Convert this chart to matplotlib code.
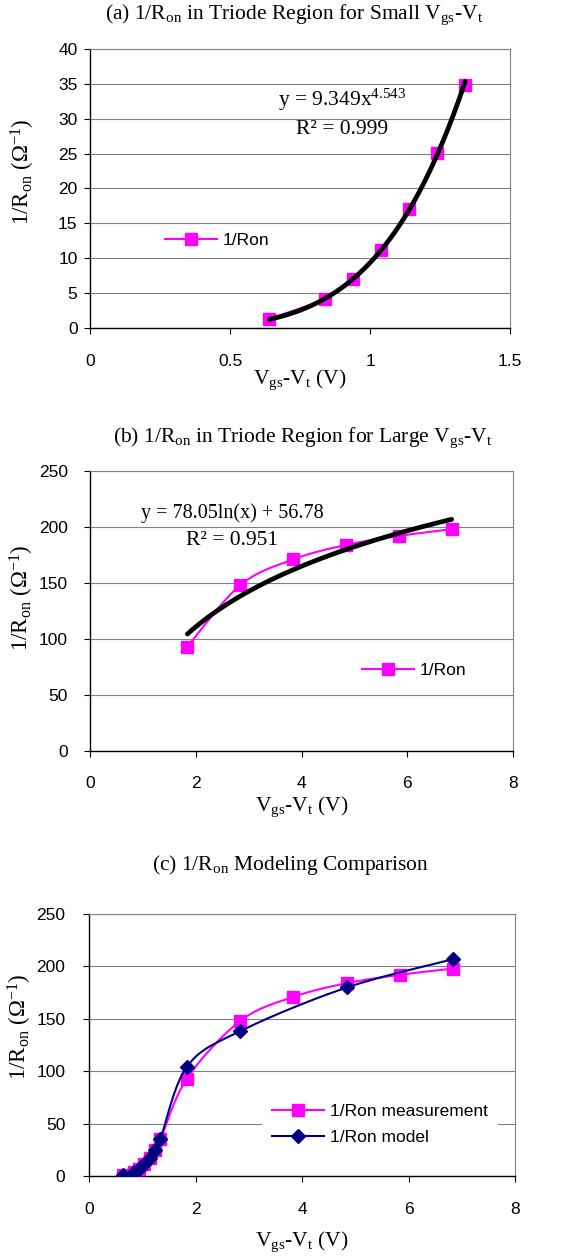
import numpy as np
import matplotlib
matplotlib.use("Agg")
import matplotlib.pyplot as plt
from matplotlib.lines import Line2D

plt.rcParams['font.family'] = ['Liberation Sans', 'DejaVu Sans']
plt.rcParams['mathtext.fontset'] = 'custom'
plt.rcParams['mathtext.rm'] = 'Liberation Serif'
plt.rcParams['mathtext.it'] = 'Liberation Serif:italic'
plt.rcParams['mathtext.bf'] = 'Liberation Serif:bold'
SERIF = ['Liberation Serif', 'DejaVu Serif']

# measured 1/Ron, small overdrive
vov_small = [0.64, 0.84, 0.94, 1.04, 1.14, 1.24, 1.34]
gon_small = [1.3, 4.2, 7.0, 11.2, 17.0, 25.1, 34.9]
# measured 1/Ron, large overdrive
vov_large = [1.84, 2.84, 3.84, 4.84, 5.84, 6.84]
gon_large = [93, 148, 171, 184, 192, 198]
# trendline coefficients
pow_a, pow_b, r2_small = 9.349, 4.543, 0.999
log_a, log_b, r2_large = 78.05, 56.78, 0.951
# model points (power law below 1.5 V, log above)
vov_model = [0.64, 0.84, 0.94, 1.04, 1.14, 1.24, 1.34, 1.84, 2.84, 4.84, 6.84]
gon_model = [1.2, 4.2, 7.1, 11.2, 17.0, 24.8, 35.3, 104.4, 138.3, 179.9, 206.9]

xticks_a = [0, 0.5, 1, 1.5]
xlabels_a = ['0', '0.5', '1', '1.5']
yticks_a = [0, 5, 10, 15, 20, 25, 30, 35, 40]
xticks_bc = [0, 2, 4, 6, 8]
yticks_bc = [0, 50, 100, 150, 200, 250]

MAG = '#FF00FF'
NAVY = '#000080'
GRID = '#808080'
TICK_FS = 12.5
SERIF_FS = 15.5

ylab = '1/R$_{\\mathrm{on}}$ (Ω$^{\\mathrm{-1}}$)'
xlab = 'V$_{\\mathrm{gs}}$-V$_{\\mathrm{t}}$ (V)'


def smooth(x, y, n=40):
    # excel style smoothed line: cubic bezier with catmull-rom control points
    x = np.asarray(x, float)
    y = np.asarray(y, float)
    px = np.concatenate([[x[0]], x, [x[-1]]])
    py = np.concatenate([[y[0]], y, [y[-1]]])
    t = np.linspace(0, 1, n)[:, None]
    out = []
    for i in range(len(x) - 1):
        p0 = np.array([px[i], py[i]])
        p1 = np.array([px[i + 1], py[i + 1]])
        p2 = np.array([px[i + 2], py[i + 2]])
        p3 = np.array([px[i + 3], py[i + 3]])
        c1 = p1 + (p2 - p0) / 6
        c2 = p2 - (p3 - p1) / 6
        seg = ((1 - t) ** 3 * p1 + 3 * (1 - t) ** 2 * t * c1
               + 3 * (1 - t) * t ** 2 * c2 + t ** 3 * p2)
        out.append(seg)
    out = np.vstack(out)
    return out[:, 0], out[:, 1]


def style(ax, xpad, ypad):
    ax.grid(axis='y', color=GRID, lw=0.8)
    ax.set_axisbelow(True)
    for s in ('top', 'right'):
        ax.spines[s].set_color(GRID)
        ax.spines[s].set_linewidth(0.8)
    for s in ('left', 'bottom'):
        ax.spines[s].set_color('black')
        ax.spines[s].set_linewidth(1.0)
    ax.tick_params(direction='out', length=4, width=0.8, labelsize=TICK_FS)
    ax.tick_params(axis='x', pad=xpad)
    ax.tick_params(axis='y', pad=ypad)
    ax.set_ylabel(ylab, fontfamily=SERIF, fontsize=16.5)
    ax.set_xlabel(xlab, fontfamily=SERIF, fontsize=SERIF_FS)
    ax.xaxis.label.set_va('center')
    ax.yaxis.label.set_va('center')


fig = plt.figure(figsize=(5.68, 12.59), dpi=100)

# (a)
ax = fig.add_axes([0.1585, 0.7395, 0.7394, 0.2216])
sx, sy = smooth(vov_small, gon_small)
ax.plot(sx, sy, color=MAG, lw=1.5, zorder=2)
ax.plot(vov_small, gon_small, 's', color=MAG, ms=9, mec=MAG, zorder=3)
fx = np.linspace(vov_small[0], vov_small[-1], 200)
ax.plot(fx, pow_a * fx ** pow_b, color='black', lw=3.4, solid_capstyle='round', zorder=4)
ax.text(0.90, 32.7, f'y = {pow_a}x$^{{{pow_b}}}$', ha='center', va='center',
        fontfamily=SERIF, fontsize=SERIF_FS)
ax.text(0.90, 28.4, f'R² = {r2_small}', ha='center', va='center',
        fontfamily=SERIF, fontsize=SERIF_FS)
ax.set_xlim(0, 1.5)
ax.set_ylim(0, 40)
ax.set_xticks(xticks_a)
ax.set_xticklabels(xlabels_a)
ax.set_yticks(yticks_a)
style(ax, 15, 5)
ax.xaxis.set_label_coords(0.5, -0.186)
ax.yaxis.set_label_coords(-0.16, 0.559)
h = Line2D([], [], color=MAG, lw=1.5, marker='s', ms=9)
ax.legend([h], ['1/Ron'], loc='center left', bbox_to_anchor=(0.179, 0.315),
          frameon=False, fontsize=TICK_FS, borderpad=0, borderaxespad=0,
          handlelength=3.0, handletextpad=0.3)
fig.text(0.5176, 0.988, '(a) 1/R$_{\\mathrm{on}}$ in Triode Region for Small '
         'V$_{\\mathrm{gs}}$-V$_{\\mathrm{t}}$', ha='center', va='center',
         fontfamily=SERIF, fontsize=SERIF_FS)

# (b)
ax = fig.add_axes([0.1585, 0.4035, 0.7447, 0.2224])
sx, sy = smooth(vov_large, gon_large)
ax.plot(sx, sy, color=MAG, lw=1.5, zorder=2)
ax.plot(vov_large, gon_large, 's', color=MAG, ms=9, mec=MAG, zorder=3)
fx = np.linspace(vov_large[0], vov_large[-1], 200)
ax.plot(fx, log_a * np.log(fx) + log_b, color='black', lw=3.4, solid_capstyle='round', zorder=4)
ax.text(2.70, 212, f'y = {log_a}ln(x) + {log_b}', ha='center', va='center',
        fontfamily=SERIF, fontsize=14.5)
ax.text(2.68, 188, f'R² = {r2_large}', ha='center', va='center',
        fontfamily=SERIF, fontsize=SERIF_FS)
ax.set_xlim(0, 8)
ax.set_ylim(0, 250)
ax.set_xticks(xticks_bc)
ax.set_yticks(yticks_bc)
style(ax, 14, 12)
ax.xaxis.set_label_coords(0.5, -0.2)
ax.yaxis.set_label_coords(-0.161, 0.548)
ax.legend([h], ['1/Ron'], loc='center left', bbox_to_anchor=(0.643, 0.287),
          frameon=False, fontsize=TICK_FS, borderpad=0, borderaxespad=0,
          handlelength=3.0, handletextpad=0.3)
fig.text(0.5326, 0.652, '(b) 1/R$_{\\mathrm{on}}$ in Triode Region for Large '
         'V$_{\\mathrm{gs}}$-V$_{\\mathrm{t}}$', ha='center', va='center',
         fontfamily=SERIF, fontsize=SERIF_FS)

# (c)
ax = fig.add_axes([0.1567, 0.0659, 0.75, 0.2081])
vov_meas = vov_small + vov_large
gon_meas = gon_small + gon_large
sx, sy = smooth(vov_meas, gon_meas)
ax.plot(sx, sy, color=MAG, lw=1.5, zorder=2)
ax.plot(vov_meas, gon_meas, 's', color=MAG, ms=9, mec=MAG, zorder=3)
mx, my = smooth(vov_model, gon_model)
ax.plot(mx, my, color=NAVY, lw=1.5, zorder=4)
ax.plot(vov_model, gon_model, 'D', color=NAVY, ms=7.5, mec=NAVY, zorder=5)
ax.set_xlim(0, 8)
ax.set_ylim(0, 250)
ax.set_xticks(xticks_bc)
ax.set_yticks(yticks_bc)
style(ax, 15, 13)
ax.xaxis.set_label_coords(0.5, -0.25)
ax.yaxis.set_label_coords(-0.162, 0.569)
hm = Line2D([], [], color=NAVY, lw=1.5, marker='D', ms=7.5)
leg = ax.legend([h, hm], ['1/Ron measurement', '1/Ron model'], loc='center left',
                bbox_to_anchor=(0.406, 0.198), frameon=True, fontsize=TICK_FS,
                borderpad=0.6, borderaxespad=0, handlelength=3.0,
                handletextpad=0.3, labelspacing=0.62, fancybox=False)
leg.get_frame().set_facecolor('white')
leg.get_frame().set_edgecolor('none')
leg.get_frame().set_alpha(1)
fig.text(0.512, 0.313, '(c) 1/R$_{\\mathrm{on}}$ Modeling Comparison',
         ha='center', va='center', fontfamily=SERIF, fontsize=SERIF_FS)

fig.savefig('out.png', dpi=100)
